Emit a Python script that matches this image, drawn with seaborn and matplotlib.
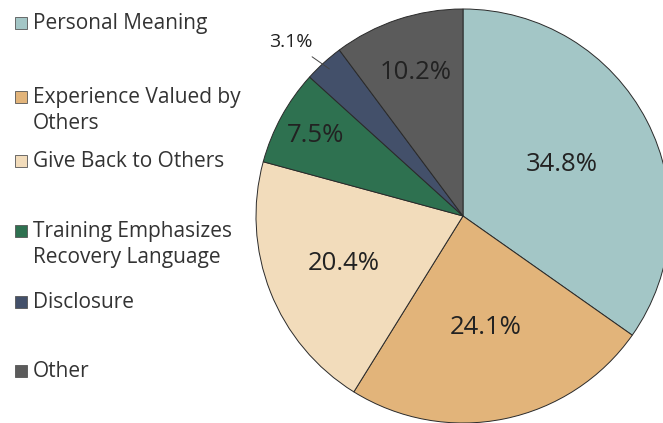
import matplotlib
matplotlib.use("Agg")
import matplotlib.pyplot as plt
import seaborn as sns
import numpy as np
from matplotlib.patches import Rectangle

categories = ["Personal Meaning", "Experience Valued by\nOthers", "Give Back to Others",
              "Training Emphasizes\nRecovery Language", "Disclosure", "Other"]
values = [34.8, 24.1, 20.4, 7.5, 3.1, 10.2]
labels = ["34.8%", "24.1%", "20.4%", "7.5%", "3.1%", "10.2%"]
colors = ["#a3c6c6", "#e2b47a", "#f2dcbb", "#2e7150", "#43506a", "#5b5b5b"]

sns.set_theme(style="white")
plt.rcParams['font.family'] = ['Open Sans', 'DejaVu Sans']

W, H = 663, 423
fig = plt.figure(figsize=(W / 100, H / 100), dpi=100)
fig.patch.set_facecolor("white")

cx, cy, r = 463, 216, 207
ax = fig.add_axes([(cx - r) / W, (H - cy - r) / H, 2 * r / W, 2 * r / H])
wedges, _ = ax.pie(values, colors=colors, startangle=90, counterclock=False,
                   radius=1.0, wedgeprops=dict(edgecolor="#2a2a2a", linewidth=0.7))
ax.set_xlim(-1, 1)
ax.set_ylim(-1, 1)
ax.set_aspect("equal")
ax.axis("off")
for w in wedges:
    w.set_clip_on(False)

dists = [0.54, 0.55, 0.62, 0.81, None, 0.73]
for w, lab, d in zip(wedges, labels, dists):
    ang = np.deg2rad((w.theta1 + w.theta2) / 2)
    if d is not None:
        ax.text(d * np.cos(ang), d * np.sin(ang), lab, ha="center", va="center",
                fontsize=18.5, color="#222222")
    else:
        x0, y0 = 0.96 * np.cos(ang), 0.96 * np.sin(ang)
        ax.annotate(lab, xy=(x0, y0), xytext=(-0.83, 0.84), ha="center", va="center",
                    fontsize=14, color="#222222",
                    arrowprops=dict(arrowstyle="-", color="#444444", lw=0.7,
                                    shrinkA=3, shrinkB=0))

# legend (baselines in pixels from top)
baselines = [29, 103, 167, 237, 308, 377]
for cat, col, yb in zip(categories, colors, baselines):
    fig.patches.append(Rectangle((15 / W, 1 - yb / H), 12 / W, 12 / H,
                                 transform=fig.transFigure, facecolor=col,
                                 edgecolor="#555555", linewidth=0.6))
    for i, line in enumerate(cat.split("\n")):
        fig.text(33 / W, 1 - (yb + 26 * i) / H, line, ha="left", va="baseline",
                 fontsize=15, color="#333333")

fig.savefig("out.png", dpi=100)
